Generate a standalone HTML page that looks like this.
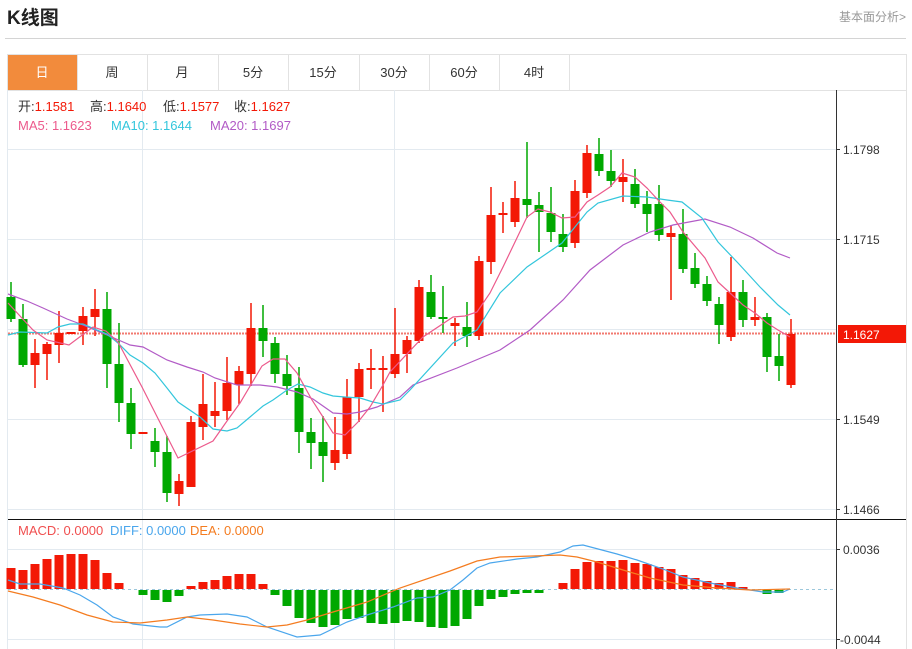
<!DOCTYPE html>
<html><head><meta charset="utf-8"><style>
body{margin:0;width:912px;height:649px;overflow:hidden;background:#fff;font-family:"Liberation Sans","Noto Sans CJK SC",sans-serif;}
</style></head><body>
<svg id="s" width="912" height="649" xmlns="http://www.w3.org/2000/svg" style="position:absolute;left:0;top:0;font-family:'Liberation Sans','Noto Sans CJK SC',sans-serif">
<text x="7" y="24" font-size="19" font-weight="bold" fill="#222">K线图</text>
<text x="906" y="21" font-size="12" fill="#999" text-anchor="end">基本面分析&gt;</text>
<line x1="5" y1="38.5" x2="906" y2="38.5" stroke="#d4d4d4"/>
<rect x="7.5" y="54.5" width="899" height="36" fill="#fff" stroke="#e2e2e2"/>
<rect x="8" y="55" width="69" height="35" fill="#f28b3c"/>
<g stroke="#e2e2e2"><line x1="77.5" y1="55" x2="77.5" y2="90"/><line x1="147.5" y1="55" x2="147.5" y2="90"/><line x1="218.5" y1="55" x2="218.5" y2="90"/><line x1="288.5" y1="55" x2="288.5" y2="90"/><line x1="359.5" y1="55" x2="359.5" y2="90"/><line x1="429.5" y1="55" x2="429.5" y2="90"/><line x1="499.5" y1="55" x2="499.5" y2="90"/><line x1="569.5" y1="55" x2="569.5" y2="90"/>
<line x1="906.5" y1="90" x2="906.5" y2="649"/></g>
<g font-size="13" fill="#333" text-anchor="middle"><text x="42" y="77" fill="#fff">日</text><text x="112" y="77">周</text><text x="182" y="77">月</text><text x="253" y="77">5分</text><text x="323" y="77">15分</text><text x="394" y="77">30分</text><text x="464" y="77">60分</text><text x="534" y="77">4时</text></g>
<g stroke="#e3eaf0"><line x1="8" y1="149.5" x2="836" y2="149.5"/><line x1="8" y1="239.5" x2="836" y2="239.5"/><line x1="8" y1="329.5" x2="836" y2="329.5"/><line x1="8" y1="419.5" x2="836" y2="419.5"/><line x1="8" y1="509.5" x2="836" y2="509.5"/><line x1="8" y1="549.5" x2="836" y2="549.5"/><line x1="8" y1="639.5" x2="836" y2="639.5"/>
<line x1="7.5" y1="90" x2="7.5" y2="649"/><line x1="142.5" y1="90" x2="142.5" y2="649"/><line x1="394.5" y1="90" x2="394.5" y2="649"/></g>
<line x1="8" y1="519.5" x2="906" y2="519.5" stroke="#111"/>
<line x1="836.5" y1="90" x2="836.5" y2="649" stroke="#333"/>
<g stroke="#333"><line x1="836" y1="149.5" x2="840" y2="149.5"/><line x1="836" y1="239.5" x2="840" y2="239.5"/><line x1="836" y1="419.5" x2="840" y2="419.5"/><line x1="836" y1="509.5" x2="840" y2="509.5"/><line x1="836" y1="549.5" x2="840" y2="549.5"/><line x1="836" y1="639.5" x2="840" y2="639.5"/></g>
<g font-size="12" fill="#333"><text x="843" y="154">1.1798</text><text x="843" y="244">1.1715</text><text x="843" y="424">1.1549</text><text x="843" y="514">1.1466</text><text x="843" y="554">0.0036</text><text x="840" y="644">-0.0044</text></g>
<line x1="8" y1="333.5" x2="836" y2="333.5" stroke="#f27a70" stroke-width="2" stroke-dasharray="2,1"/>
<line x1="8" y1="589.5" x2="836" y2="589.5" stroke="#9cc8dc" stroke-dasharray="3,3"/>
<rect x="838" y="325" width="68" height="18" fill="#f31806"/>
<text x="843" y="339" font-size="12" fill="#fff">1.1627</text>
<g id="c"></g>
<g font-size="13">
<text x="18" y="111" fill="#333">开:<tspan fill="#f31806">1.1581</tspan></text>
<text x="90" y="111" fill="#333">高:<tspan fill="#f31806">1.1640</tspan></text>
<text x="163" y="111" fill="#333">低:<tspan fill="#f31806">1.1577</tspan></text>
<text x="234" y="111" fill="#333">收:<tspan fill="#f31806">1.1627</tspan></text>
<text x="18" y="130" fill="#ec5a8c">MA5: 1.1623</text>
<text x="111" y="130" fill="#33c6dc">MA10: 1.1644</text>
<text x="210" y="130" fill="#b25bc6">MA20: 1.1697</text>
<text x="18" y="535" fill="#f04f4f">MACD: 0.0000</text>
<text x="110" y="535" fill="#4aa6ec">DIFF: 0.0000</text>
<text x="190" y="535" fill="#f47c20">DEA: 0.0000</text></g>
</svg>
<script>
var C=[[297,319,282,322],[319,365,304,367],[365,353,339,388],[354,344,342,380],[345,333,311,363],[333,333,333,333],[331,316,307,345],[317,309,289,336],[309,364,292,388],[364,403,323,422],[403,434,388,449],[433,433,433,433],[441,452,428,467],[452,493,436,502],[494,481,474,506],[487,422,416,487],[427,404,374,440],[416,411,382,427],[411,383,357,420],[385,371,366,404],[374,328,303,386],[328,341,305,357],[343,374,337,383],[374,386,355,395],[388,432,367,453],[432,443,418,469],[442,456,416,482],[463,450,417,470],[454,397,379,459],[397,369,363,422],[369,369,349,389],[369,369,356,412],[374,354,308,378],[354,340,336,373],[341,287,280,343],[292,317,275,319],[317,319,286,333],[326,323,318,346],[327,336,302,347],[336,261,256,340],[262,215,187,274],[214,214,202,233],[222,198,181,227],[199,205,142,218],[205,212,192,252],[213,232,187,242],[234,247,214,252],[243,191,180,248],[193,153,145,198],[154,171,138,176],[171,181,150,187],[182,177,159,202],[184,204,169,208],[204,214,191,232],[204,235,185,241],[237,233,225,300],[234,269,209,273],[268,284,253,288],[284,301,276,306],[304,325,297,344],[337,292,257,341],[292,320,280,327],[320,317,297,326],[317,357,313,372],[356,366,334,381],[385,334,319,388]];
var H=[568,570,564,559,555,554,554,560,573,583,590,595,600,602,596,586,582,580,576,574,574,584,595,606,618,623,627,625,619,618,623,624,623,621,622,627,628,626,619,606,599,597,594,593,593,590,583,569,562,561,561,560,563,564,567,569,575,578,581,583,582,587,590,594,593,589];
var s='';
for(var i=0;i<C.length;i++){var x=11+i*12,c=C[i],col=(c[1]>c[0])?'#00a800':'#f31806';
var t=Math.min(c[0],c[1]),b=Math.max(c[0],c[1]);if(b-t<2){t-=1;b+=1;}
s+='<line x1="'+x+'" y1="'+c[2]+'" x2="'+x+'" y2="'+c[3]+'" stroke="'+col+'" stroke-width="1.5"/>';
s+='<rect x="'+(x-4.5)+'" y="'+t+'" width="9" height="'+(b-t)+'" fill="'+col+'"/>';
var h=H[i];if(h<589)s+='<rect x="'+(x-4.5)+'" y="'+h+'" width="9" height="'+(589-h)+'" fill="#f31806"/>';else if(h>590)s+='<rect x="'+(x-4.5)+'" y="590" width="9" height="'+(h-590)+'" fill="#00a800"/>';}
function pl(p,c){return '<polyline fill="none" stroke="'+c+'" stroke-width="1.2" points="'+p+'"/>';}
s+=pl("8,294 27,301 43,308 67,319 83,325 107,335 130,345 143,347 167,360 187,367 203,372 215,378 237,385 260,385 277,387 297,392 313,399 333,413 347,414 360,412 377,407 400,397 413,385 457,368 500,350 530,330 563,300 590,270 623,245 650,232 673,225 705,219 730,227 753,238 777,253 790,258","#b25bc6");
s+=pl("8,335 20,332 47,333 58,327 70,324 83,324 97,330 107,334 118,343 130,355 143,363 155,373 167,388 178,402 200,417 213,429 227,431 237,428 250,417 263,406 273,400 287,390 298,384 310,387 323,393 333,396 345,397 360,398 373,402 383,404 400,400 410,390 453,343 477,330 500,293 527,267 562,243 587,212 598,203 623,196 647,197 667,200 682,202 702,218 718,242 738,263 760,287 778,305 790,315","#33c6dc");
s+=pl("8,303 33,330 47,340 69,345 93,327 106,331 118,342 142,387 178,458 213,441 227,421 240,403 262,366 273,359 285,359 297,373 312,400 323,417 333,433 345,435 358,422 370,407 383,385 390,372 423,337 453,317 465,316 477,312 490,293 503,267 527,217 538,209 550,212 562,218 575,217 587,202 598,195 610,187 622,173 635,177 647,188 658,200 670,212 683,232 705,258 718,282 730,293 743,305 755,313 767,323 778,330 790,337","#ec5a8c");
s+=pl("8,580 20,584 40,584 63,588 80,595 97,605 113,617 133,624 160,627 167,627 187,617 200,615 227,614 247,617 267,627 297,637 320,635 347,622 367,615 393,607 417,598 433,597 450,590 463,580 477,568 490,563 517,559 537,557 560,552 573,546 583,545 617,554 637,560 663,569 683,577 710,583 737,588 763,592 783,592 790,589","#4aa6ec");
s+=pl("8,591 33,597 60,605 87,615 113,622 140,623 167,620 187,617 213,620 240,624 267,627 287,625 307,620 333,612 367,602 400,588 450,571 477,561 500,557 533,556 560,555 577,557 597,562 623,570 650,578 683,585 717,588 750,590 790,589","#f47c20");
document.getElementById('c').innerHTML=s;
</script>
</body></html>
